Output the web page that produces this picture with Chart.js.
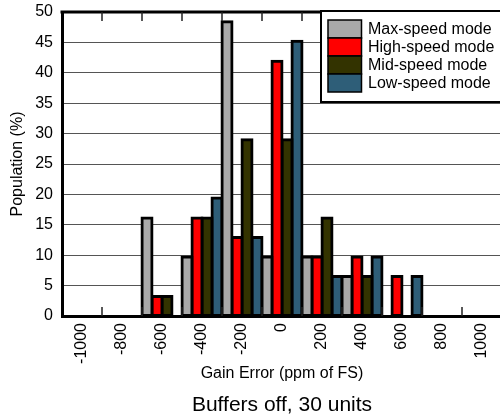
<!DOCTYPE html>
<html>
<head>
<meta charset="utf-8">
<script src="https://cdn.jsdelivr.net/npm/chart.js@4"></script>
<style>
  html, body { margin: 0; padding: 0; background: #fff; overflow: hidden; }
  #caixa { width: 500px; height: 418px; overflow: hidden; position: relative; }
  canvas { display: block; }
</style>
</head>
<body>
<div id="caixa"><canvas id="grafico" width="503" height="418"></canvas></div>
<script>
// histogram bins (ppm of FS) and population (%) per mode, 31 units
const categorias = ['-1000', '-800', '-600', '-400', '-200', '0', '200', '400', '600', '800', '1000'];
const maxSpeed  = [0, 0, 16.1, 9.7, 48.4, 9.7, 9.7, 6.5, 0, 0, 0];
const highSpeed = [0, 0, 3.2, 16.1, 12.9, 41.9, 9.7, 9.7, 6.5, 0, 0];
const midSpeed  = [0, 0, 3.2, 16.1, 29.0, 29.0, 16.1, 6.5, 0, 0, 0];
const lowSpeed  = [0, 0, 0, 19.4, 12.9, 45.2, 6.5, 9.7, 6.5, 0, 0];
const nomesSeries = ['Max-speed mode', 'High-speed mode', 'Mid-speed mode', 'Low-speed mode'];
const cores = ['#a9a9a9', '#ff0000', '#333300', '#2e5e78'];
const tituloGrafico = 'Buffers off, 30 units';

const fonte = '"Liberation Sans", Arial, sans-serif';
Chart.defaults.font.family = fonte;
Chart.defaults.color = '#000';

// top frame, inner tick marks, boxed legend inside the plot and the caption under the axis
const molduraPlugin = {
    id: 'moldura',
    afterDraw(chart) {
        const { ctx, chartArea: a, scales: { x } } = chart;
        ctx.save();
        ctx.strokeStyle = '#000';
        ctx.lineWidth = 3;
        ctx.beginPath();
        ctx.moveTo(a.left - 1.5, a.top);
        ctx.lineTo(a.right, a.top);
        ctx.stroke();

        ctx.strokeStyle = '#222';
        ctx.lineWidth = 1.5;
        for (let i = 1; i < categorias.length; i++) {
            const px = Math.round((x.getPixelForValue(i - 1) + x.getPixelForValue(i)) / 2);
            ctx.beginPath();
            ctx.moveTo(px, a.bottom);
            ctx.lineTo(px, a.bottom - 9);
            ctx.moveTo(px, a.top);
            ctx.lineTo(px, a.top + 9);
            ctx.stroke();
        }

        // legend
        const lx = 321, ly = a.top - 1, lh = 91;
        ctx.fillStyle = '#fff';
        ctx.fillRect(lx, ly, a.right - lx + 2, lh);
        ctx.strokeStyle = '#000';
        ctx.lineWidth = 2;
        ctx.strokeRect(lx, ly, a.right - lx + 4, lh);

        ctx.font = '16px ' + fonte;
        ctx.textBaseline = 'middle';
        ctx.textAlign = 'left';
        chart.data.datasets.forEach((ds, i) => {
            const sy = ly + 9 + i * 18;
            ctx.fillStyle = ds.backgroundColor;
            ctx.fillRect(lx + 7, sy, 33.5, 18);
            ctx.lineWidth = 1.5;
            ctx.strokeStyle = '#000';
            ctx.strokeRect(lx + 7, sy, 33.5, 18);
            ctx.fillStyle = '#000';
            ctx.fillText(ds.label, lx + 47, sy + 9.5);
        });

        // caption, centred on the plot area
        ctx.font = '21px ' + fonte;
        ctx.textAlign = 'center';
        ctx.fillStyle = '#000';
        ctx.fillText(tituloGrafico, (a.left + a.right) / 2, chart.height - 13);
        ctx.restore();
    }
};

const series = [maxSpeed, highSpeed, midSpeed, lowSpeed];

new Chart(document.getElementById('grafico'), {
    type: 'bar',
    data: {
        labels: categorias,
        datasets: series.map((valores, i) => ({
            label: nomesSeries[i],
            data: valores,
            backgroundColor: cores[i],
            borderColor: '#000',
            borderWidth: 3,
            borderSkipped: false,
            inflateAmount: 1.5,
            barPercentage: 1,
            categoryPercentage: 1
        }))
    },
    options: {
        responsive: false,
        animation: false,
        devicePixelRatio: 1,
        layout: { padding: { top: 12, left: 0, right: 1, bottom: 25.6 } },
        plugins: {
            legend: { display: false },
            tooltip: { enabled: false },
            title: { display: false }
        },
        scales: {
            x: {
                grid: { display: false, drawTicks: false },
                border: { display: true, color: '#000', width: 3 },
                ticks: {
                    minRotation: 90,
                    maxRotation: 90,
                    autoSkip: false,
                    padding: 7,
                    font: { size: 16 },
                    color: '#000'
                },
                title: {
                    display: true,
                    text: 'Gain Error (ppm of FS)',
                    font: { size: 16 },
                    color: '#000',
                    padding: { top: 0, bottom: 9 }
                },
                afterFit(scale) {
                    scale.height = 76.4;
                    scale.paddingLeft = 0;
                    scale.paddingRight = 0;
                }
            },
            y: {
                min: 0,
                max: 50,
                grid: { color: '#555', lineWidth: 1, drawTicks: false },
                border: { display: true, color: '#000', width: 3 },
                ticks: { stepSize: 5, padding: 9, font: { size: 16 }, color: '#000' },
                title: {
                    display: true,
                    text: 'Population (%)',
                    font: { size: 16 },
                    color: '#000',
                    padding: { top: 8.2, bottom: 0 }
                },
                afterFit(scale) {
                    scale.width = 62;
                    scale.paddingTop = 0;
                    scale.paddingBottom = 0;
                }
            }
        }
    },
    plugins: [molduraPlugin]
});
</script>
</body>
</html>
